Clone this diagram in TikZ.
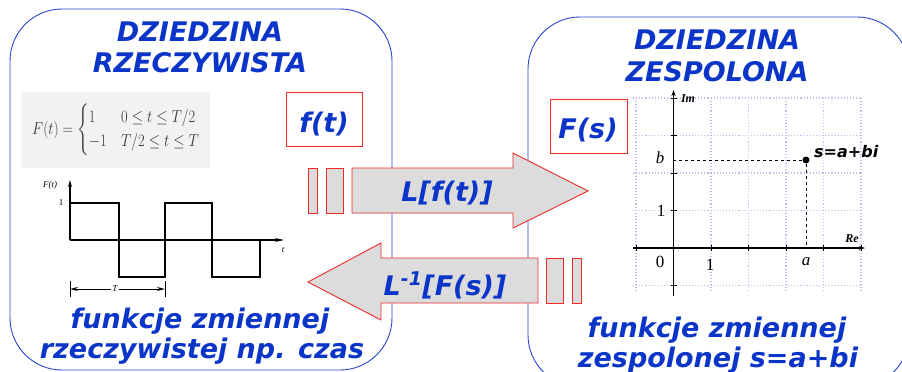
\documentclass[tikz,border=0pt]{standalone}
\usepackage{amsmath}
\usepackage{fontspec}
\setmainfont{Liberation Serif}
\newfontfamily\vfont{DejaVu Sans}
\usetikzlibrary{arrows.meta}
\definecolor{tblue}{HTML}{0A35C8}
\definecolor{bblue}{HTML}{2846D0}
\definecolor{ared}{HTML}{F02828}
\definecolor{agrey}{HTML}{DCDCDC}
\definecolor{fgrey}{HTML}{F2F2F2}
\definecolor{gridc}{HTML}{BEBEEA}
\tikzset{
  lbl/.style={font=\vfont\bfseries\itshape\fontsize{27}{31}\selectfont, text=tblue, inner sep=0pt, anchor=base},
  domainbox/.style={draw=bblue, line width=0.9pt, rounded corners=52pt},
  redbox/.style={draw=ared, line width=0.9pt},
  arrowshape/.style={draw=ared, fill=agrey, line width=0.9pt, line join=miter},
  wave/.style={line width=2pt, line join=miter},
  small/.style={inner sep=0pt, font=\fontsize{9}{10}\selectfont},
  axl/.style={inner sep=0pt, font=\fontsize{17}{18}\selectfont},
}
\begin{document}
\begin{tikzpicture}[x=1pt,y=-1pt]
\useasboundingbox (0,0) rectangle (902,372);
\begin{scope}
\clip (0,0) rectangle (902,372);
% domain boxes
\draw[domainbox] (10,9) rectangle (392,370);
\draw[domainbox] (528,17) rectangle (909,387);

% titles
\node[lbl] (t1) at (200,41.7) {DZIEDZINA};
\node[lbl] (t2) at (200,72.7) {RZECZYWISTA};
\node[lbl] (t3) at (717,49.3) {DZIEDZINA};
\node[lbl] (t4) at (717,81) {ZESPOLONA};
\node[lbl] (b1) at (200,328) {funkcje zmiennej};
\node[lbl] (b2) at (202,358) {rzeczywistej np. czas};
\node[lbl] (b3) at (717,337) {funkcje zmiennej};
\node[lbl] (b4) at (718,367) {zespolonej s=a+bi};

% f(t), F(s) boxes
\draw[redbox] (286,92) rectangle (362,146);
\node[lbl] (ft) at (324,132) {f(t)};
\draw[redbox] (550,99) rectangle (627,153);
\node[lbl] (Fs) at (588,138) {F(s)};

% right arrow
\draw[arrowshape] (308,168) rectangle (317,213);
\draw[arrowshape] (326,168) rectangle (343,213);
\draw[arrowshape] (352,168) -- (513,168) -- (513,153) -- (588,191) -- (513,228) -- (513,213) -- (352,213) -- cycle;
\node[lbl] (L) at (447,201) {L[f(t)]};
% left arrow
\draw[arrowshape] (546,258) rectangle (563,303);
\draw[arrowshape] (572,258) rectangle (581,303);
\draw[arrowshape] (538,258) -- (381,258) -- (381,243) -- (308,282) -- (381,320) -- (381,303) -- (538,303) -- cycle;
\node[lbl] (Li) at (445,295) {L\textsuperscript{-1}[F(s)]};

% formula
\fill[fgrey] (21,92) rectangle (210,168);
\node[inner sep=0pt, text=black!78] (form) at (116,130) {\scalebox{0.84}[1]{\fontsize{17}{20}\selectfont$F(t)=\begin{cases}1 & 0\le t\le T/2\\ -1 & T/2\le t\le T\end{cases}$}};

% square wave
\coordinate (o) at (70,240);
\draw[line width=1.2pt, -{Stealth[length=7pt,width=4pt]}] (o) -- (70,180);
\draw[line width=1.2pt, -{Stealth[length=9pt,width=4pt]}] (o) -- (284,240);
\draw[wave] (70,240) -- (70,203) -- (119,203) -- (119,277) -- (165,277) -- (165,203) -- (212,203) -- (212,277) -- (260,277) -- (260,240);
\node[small] (Ft) at (50,185) {\itshape F(t)};
\node[small] (one) at (61,203) {1};
\node[small] (tl) at (283,250) {\itshape t};
\draw[line width=1pt] (70,281) -- (70,297);
\draw[line width=1pt] (165,281) -- (165,297);
\node[small, fill=white, inner sep=1pt] (T) at (115,289) {\itshape T};
\draw[line width=1pt, -{Stealth[length=8pt,width=4pt]}] (T) -- (70,289);
\draw[line width=1pt, -{Stealth[length=8pt,width=4pt]}] (T) -- (165,289);

% complex plane grid
\foreach \gx in {636,673.5,711,748.5,786,823.5,861}
  \draw[gridc, dotted, line width=1.1pt] (\gx,98) -- (\gx,293);
\foreach \gy in {98,135.5,173,210.5,248,285.5}
  \draw[gridc, dotted, line width=1.1pt] (633,\gy) -- (862,\gy);
% axes
\draw[line width=1.5pt, -{Stealth[length=6pt,width=4pt]}] (673.5,296) -- (673.5,90);
\draw[line width=1.5pt, -{Stealth[length=6pt,width=4pt]}] (633,248) -- (865,248);
\foreach \gx in {636,711,748.5,786,823.5,861}
  \draw[line width=1pt] (\gx,245) -- (\gx,251);
\foreach \gy in {98,135.5,173,210.5,285.5}
  \draw[line width=1pt] (670.5,\gy) -- (676.5,\gy);
\node[small, font=\bfseries\itshape\fontsize{12}{13}\selectfont] (Im) at (688,99) {Im};
\node[small, font=\bfseries\itshape\fontsize{12}{13}\selectfont] (Re) at (852,239) {Re};
\node[axl] (zero) at (660,262) {0};
\node[axl] (x1) at (710,265) {1};
\node[axl] (y1) at (661,211) {1};
\node[axl] (a) at (806,262) {\itshape a};
\node[axl] (b) at (660,158) {\itshape b};
\node[circle, fill=black, inner sep=0pt, minimum size=7pt] (p) at (806,160) {};
\draw[dashed, line width=0.8pt] (p) -- (673.5,160);
\draw[dashed, line width=0.8pt] (p) -- (806,248);
\node[inner sep=0pt, anchor=west, font=\vfont\bfseries\itshape\fontsize{16}{18}\selectfont] (s) at (814,152) {s=a+bi};
\end{scope}
\end{tikzpicture}
\end{document}
